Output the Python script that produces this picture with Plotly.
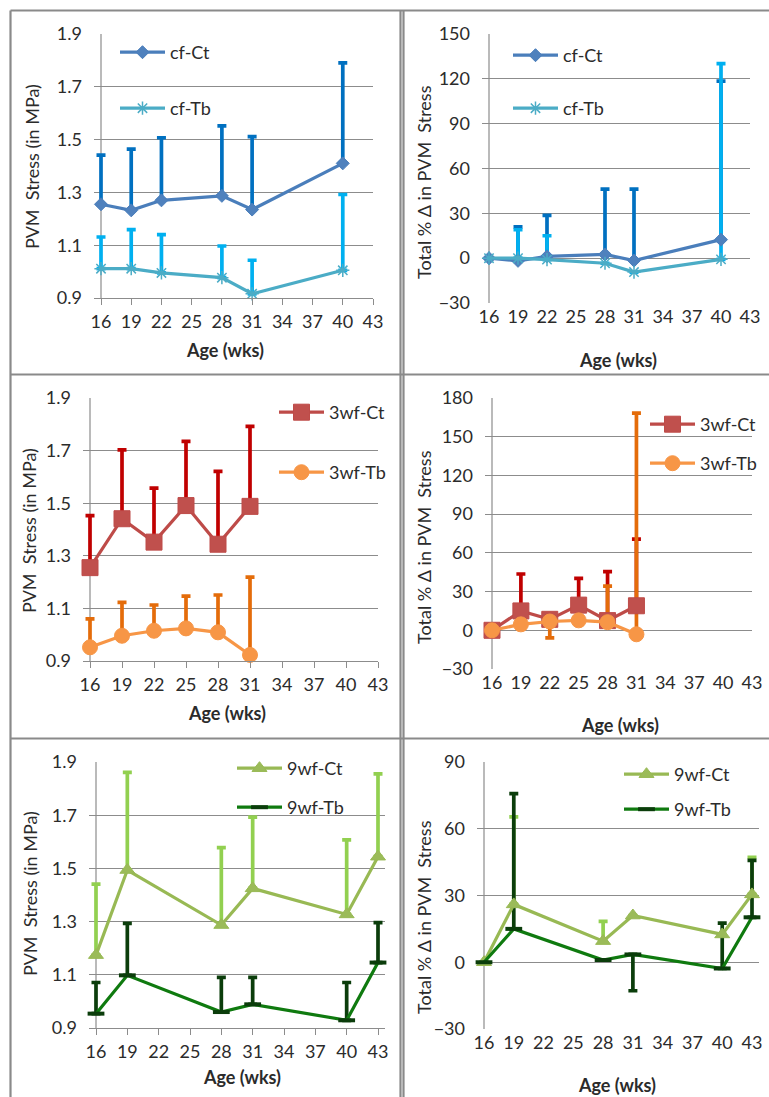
import plotly.graph_objects as go

# ---------------- data ----------------
weeks_cf = [16, 19, 22, 28, 31, 40]
weeks_3wf = [16, 19, 22, 25, 28, 31]
weeks_9wf = [16, 19, 28, 31, 40, 43]

# PVM stress (MPa) with SD (one-sided bars)
cf_ct_stress = [1.255, 1.232, 1.270, 1.287, 1.235, 1.410]
cf_ct_stress_err = [0.186, 0.232, 0.237, 0.265, 0.276, 0.381]
cf_tb_stress = [1.011, 1.011, 0.995, 0.977, 0.916, 1.005]
cf_tb_stress_err = [0.120, 0.148, 0.145, 0.120, 0.127, 0.287]

# total % change in PVM stress
cf_ct_change = [0.0, -1.8, 1.2, 2.5, -1.6, 12.4]
cf_ct_change_err = [0.0, 22.8, 27.5, 43.7, 47.8, 106.1]
cf_tb_change = [0.0, 0.0, -1.0, -3.4, -9.3, -0.8]
cf_tb_change_err = [0.0, 19.0, 16.0, 0.0, 0.0, 131.0]

w3_ct_stress = [1.255, 1.441, 1.352, 1.491, 1.344, 1.488]
w3_ct_stress_err = [0.198, 0.262, 0.205, 0.244, 0.277, 0.304]
w3_tb_stress = [0.952, 0.996, 1.015, 1.024, 1.009, 0.923]
w3_tb_stress_err = [0.108, 0.127, 0.098, 0.123, 0.142, 0.296]

w3_ct_change = [0.0, 15.0, 8.5, 19.5, 7.5, 19.0]
w3_ct_change_err = [0.0, 28.6, 0.0, 20.7, 37.9, 51.7]
w3_tb_change = [0.0, 4.6, 6.8, 7.7, 6.3, -3.1]
w3_tb_change_err = [0.0, 0.0, -12.7, 0.0, 27.9, 171.4]

w9_ct_stress = [1.174, 1.494, 1.287, 1.425, 1.327, 1.544]
w9_ct_stress_err = [0.267, 0.367, 0.291, 0.268, 0.280, 0.311]
w9_tb_stress = [0.954, 1.098, 0.960, 0.989, 0.929, 1.146]
w9_tb_stress_err = [0.117, 0.195, 0.130, 0.101, 0.142, 0.150]

w9_ct_change = [0.0, 26.0, 9.5, 21.0, 12.5, 30.5]
w9_ct_change_err = [0.0, 39.3, 8.9, 0.0, 0.0, 16.7]
w9_tb_change = [0.0, 15.0, 1.0, 3.5, -2.8, 20.2]
w9_tb_change_err = [0.0, 60.8, 0.0, -16.3, 20.4, 25.6]

age_ticks = [16, 19, 22, 25, 28, 31, 34, 37, 40, 43]
stress_ticks = [0.9, 1.1, 1.3, 1.5, 1.7, 1.9]
cf_change_ticks = [-30, 0, 30, 60, 90, 120, 150]
w3_change_ticks = [-30, 0, 30, 60, 90, 120, 150, 180]
w9_change_ticks = [-30, 0, 30, 60, 90]

# ---------------- styling ----------------
W, H = 769, 1097
FONT = "Lato"
TXT = "#2b2b2b"
GRID = "#8c8c8c"
AGE_MIN, AGE_MAX = 16, 43
PAD = 7  # px of plot area kept outside the age range so end caps are not clipped

STYLE = {
    "cf-Ct": dict(line="#4a7ebb", fill="#4f81bd", symbol="diamond", size=10, err="#0070c0"),
    "cf-Tb": dict(line="#4bacc6", fill="#4bacc6", symbol="asterisk-open", size=11, err="#00b0f0"),
    "3wf-Ct": dict(line="#be4b48", fill="#c0504d", symbol="square", size=16, err="#c00000"),
    "3wf-Tb": dict(line="#f79646", fill="#f79646", symbol="circle", size=15, err="#e46c0a"),
    "9wf-Ct": dict(line="#98b954", fill="#9bbb59", symbol="triangle-up", size=13, err="#92d050"),
    "9wf-Tb": dict(line="#0f7a0f", fill="#0b3d0b", symbol="line-ew-open", size=12, err="#0b3d0b"),
}


def px_x(p):
    """Page x pixel -> paper fraction."""
    return min(max(p / W, 0), 1)


def px_y(p):
    """Page y pixel (from top) -> paper fraction."""
    return min(max(1 - p / H, 0), 1)


def signed_err(errs):
    """Split signed deviations into up/down arrays; zero means no bar."""
    plus, minus = [], []
    for e in errs:
        if e > 0:
            plus.append(e)
            minus.append(0)
        elif e < 0:
            plus.append(0)
            minus.append(-e)
        else:
            plus.append(None)
            minus.append(None)
    return plus, minus


panels = [
    dict(series=[("cf-Ct", weeks_cf, cf_ct_stress, cf_ct_stress_err),
                 ("cf-Tb", weeks_cf, cf_tb_stress, cf_tb_stress_err)],
         ticks=stress_ticks, rng=[0.9, 1.9], fmt=".1f", ytitle="PVM\u00a0 Stress (in MPa)",
         box=(101, 34, 373, 298), rpad=0, leg=(168, 55, 53), xt=(225, 350), yt=(32, 167), zero=False),
    dict(series=[("cf-Ct", weeks_cf, cf_ct_change, cf_ct_change_err),
                 ("cf-Tb", weeks_cf, cf_tb_change, cf_tb_change_err)],
         ticks=cf_change_ticks, rng=[-30, 150], fmt="d", ytitle="Total % \u0394 in PVM\u00a0 Stress",
         box=(489, 34, 750, 303), rpad=0, leg=(561, 58, 50), xt=(618, 360), yt=(424, 182), zero=True),
    dict(series=[("3wf-Ct", weeks_3wf, w3_ct_stress, w3_ct_stress_err),
                 ("3wf-Tb", weeks_3wf, w3_tb_stress, w3_tb_stress_err)],
         ticks=stress_ticks, rng=[0.9, 1.9], fmt=".1f", ytitle="PVM\u00a0 Stress (in MPa)",
         box=(90, 398, 378, 661), rpad=0, leg=(327, 415, 57), xt=(227, 713), yt=(29, 531), zero=False),
    dict(series=[("3wf-Ct", weeks_3wf, w3_ct_change, w3_ct_change_err),
                 ("3wf-Tb", weeks_3wf, w3_tb_change, w3_tb_change_err)],
         ticks=w3_change_ticks, rng=[-30, 180], fmt="d", ytitle="Total % \u0394 in PVM\u00a0 Stress",
         box=(492, 398, 752, 669), rpad=0, leg=(698, 427, 36), xt=(620, 725), yt=(424, 547), zero=True),
    dict(series=[("9wf-Ct", weeks_9wf, w9_ct_stress, w9_ct_stress_err),
                 ("9wf-Tb", weeks_9wf, w9_tb_stress, w9_tb_stress_err)],
         ticks=stress_ticks, rng=[0.9, 1.9], fmt=".1f", ytitle="PVM\u00a0 Stress (in MPa)",
         box=(96, 762, 378, 1028), rpad=PAD, leg=(285, 771, 36), xt=(242, 1077), yt=(30, 894), zero=False),
    dict(series=[("9wf-Ct", weeks_9wf, w9_ct_change, w9_ct_change_err),
                 ("9wf-Tb", weeks_9wf, w9_tb_change, w9_tb_change_err)],
         ticks=w9_change_ticks, rng=[-30, 90], fmt="d", ytitle="Total % \u0394 in PVM\u00a0 Stress",
         box=(484, 762, 752, 1029), rpad=PAD, leg=(672, 777, 32), xt=(617, 1085), yt=(424, 917), zero=True),
]

fig = go.Figure()
layout = dict(
    width=W, height=H,
    # fixed margins: legends near the edges must not shrink the plotting area
    margin=dict(l=0, r=0, t=0, b=0, autoexpand=False),
    paper_bgcolor="white", plot_bgcolor="white",
    font=dict(family=FONT, size=18, color=TXT),
    showlegend=True,
)
annotations = []
shapes = []

ITEM_H = 23.4
LEG_TEXT_OFFSET = 53   # legend text start relative to the legend's left edge
for i, p in enumerate(panels, start=1):
    xa = "x" if i == 1 else f"x{i}"
    ya = "y" if i == 1 else f"y{i}"
    xkey = "xaxis" if i == 1 else f"xaxis{i}"
    ykey = "yaxis" if i == 1 else f"yaxis{i}"
    legkey = "legend" if i == 1 else f"legend{i}"
    x0, y0, x1, y1 = p["box"]
    ppu = (x1 - x0) / (AGE_MAX - AGE_MIN)
    xdom = [px_x(x0 - PAD), px_x(x1 + p["rpad"])]
    xrng = [AGE_MIN - PAD / ppu, AGE_MAX + p["rpad"] / ppu]
    ydom = [px_y(y1), px_y(y0)]

    # error bars first (ct below tb), then lines (ct below tb)
    for name, xs, ys, errs in p["series"]:
        st = STYLE[name]
        plus, minus = signed_err(errs)
        fig.add_trace(go.Scatter(
            x=xs, y=ys, xaxis=xa, yaxis=ya, mode="markers", showlegend=False,
            hoverinfo="skip", cliponaxis=False,
            marker=dict(size=2, color="rgba(0,0,0,0)"),
            error_y=dict(type="data", symmetric=False, array=plus, arrayminus=minus,
                         color=st["err"], thickness=3.7, width=4.5),
        ))
    for name, xs, ys, errs in p["series"]:
        st = STYLE[name]
        mk = dict(symbol=st["symbol"], size=st["size"], color=st["fill"],
                  line=dict(color=st["line"], width=1))
        if st["symbol"].endswith("-open"):
            mk["line"] = dict(color=st["fill"], width=4 if "line" in st["symbol"] else 1.5)
        fig.add_trace(go.Scatter(
            x=xs, y=ys, xaxis=xa, yaxis=ya, mode="lines+markers", name=name,
            legend=legkey, legendgroup=f"{i}-{name}", cliponaxis=False,
            line=dict(color=st["line"], width=3.2), marker=mk,
        ))

    layout[xkey] = dict(
        domain=xdom, anchor=ya, range=xrng, tickmode="array", tickvals=age_ticks,
        showgrid=False, zeroline=False, automargin=False,
        showline=not p["zero"], linecolor=GRID, linewidth=1,
        ticks="" if p["zero"] else "outside", ticklen=6, tickcolor=GRID,
        tickfont=dict(family=FONT, size=18, color=TXT), ticklabelstandoff=1,
    )
    layout[ykey] = dict(
        domain=ydom, anchor=xa, range=p["rng"], tickmode="array", tickvals=p["ticks"],
        tickformat=p["fmt"], showgrid=True, gridcolor=GRID, gridwidth=1,
        zeroline=False, showline=False, ticks="", automargin=False,
        tickfont=dict(family=FONT, size=18, color=TXT), ticklabelstandoff=11,
    )
    # vertical axis line at the start of the age range
    shapes.append(dict(
        type="line", xref=xa, yref=f"{ya} domain", x0=AGE_MIN, x1=AGE_MIN, y0=0, y1=1,
        line=dict(color=GRID, width=1.2), layer="below",
    ))
    if p["zero"]:
        # horizontal axis crossing at y = 0 with its tick marks
        lo, hi = p["rng"]
        pos = ydom[0] + (0 - lo) / (hi - lo) * (ydom[1] - ydom[0])
        zkey = f"xaxis{i + 10}"
        layout[zkey] = dict(
            domain=xdom, overlaying=xa, anchor="free", position=pos, side="bottom",
            range=xrng, tickmode="array", tickvals=age_ticks, showticklabels=False,
            showgrid=False, zeroline=False, showline=True, linecolor=GRID, linewidth=1.2,
            ticks="outside", ticklen=6, tickcolor=GRID, automargin=False,
        )

    lx, ly, spacing = p["leg"]
    layout[legkey] = dict(
        x=px_x(lx - LEG_TEXT_OFFSET), y=px_y(ly - 21), xanchor="left", yanchor="top",
        bgcolor="rgba(0,0,0,0)", borderwidth=0, itemwidth=45,
        tracegroupgap=spacing - ITEM_H, traceorder="grouped",
        font=dict(family=FONT, size=18, color=TXT),
    )

    annotations.append(dict(
        text="<b>Age (wks)</b>", x=px_x(p["xt"][0]), y=px_y(p["xt"][1]), xref="paper", yref="paper",
        showarrow=False, xanchor="center", yanchor="middle", font=dict(family=FONT, size=18, color=TXT),
    ))
    annotations.append(dict(
        text=p["ytitle"], x=px_x(p["yt"][0]), y=px_y(p["yt"][1]), xref="paper", yref="paper",
        showarrow=False, xanchor="center", yanchor="middle", textangle=-90,
        font=dict(family=FONT, size=18, color=TXT),
    ))

# panel frames, kept inside the figure
FRAME = dict(color="#8a8a8a", width=2.2)
for yy in [10.5, 374.5, 738.5]:
    shapes.append(dict(type="line", xref="paper", yref="paper", x0=px_x(10.5), x1=1,
                       y0=px_y(yy), y1=px_y(yy), line=FRAME, layer="above"))
for xx in [10.5, 400.5, 403.5]:
    shapes.append(dict(type="line", xref="paper", yref="paper", x0=px_x(xx), x1=px_x(xx),
                       y0=0, y1=px_y(10.5), line=FRAME, layer="above"))

layout["annotations"] = annotations
layout["shapes"] = shapes
fig.update_layout(**layout)
fig.write_html(
    "out.html",
    post_script="document.body.style.margin='0px';document.body.style.padding='0px';",
)
